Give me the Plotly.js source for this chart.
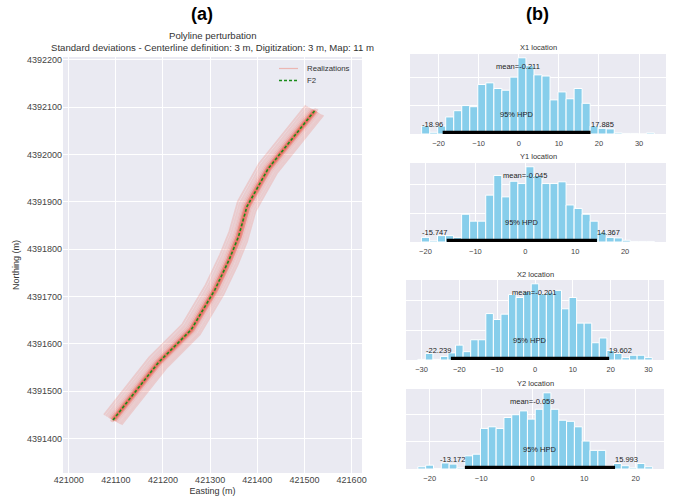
<!DOCTYPE html>
<html><head><meta charset="utf-8">
<script src="https://cdn.plot.ly/plotly-3.0.1.min.js"></script>
<style>html,body{margin:0;padding:0;background:#fff}#chart{width:675px;height:497px}</style>
</head><body><div id="chart"></div>
<script>
// ---------- (a) Polyline perturbation ----------
const f2Easting  = [421094, 421190, 421260, 421310, 421340, 421360, 421378, 421423, 421522];
const f2Northing = [4391439, 4391560, 4391630, 4391714, 4391777, 4391826, 4391890, 4391970, 4392093];
// estimated whole-line displacements (m) of the individual realizations
const realShiftE = [0, 2, -2, 4, -4, 1, -1, 3, -3, 5, -6, 7, -8, 10, -11, 14, -15, 6, -5, 2, -2, 0, 18, -19];
const realShiftN = [1, -1, 2, -2, 2, 0, 1, -2, 2, -3, 3, -4, 4, -6, 6, -8, 8, 3, -3, 4, -4, -3, -10, 11];

const eastTicks  = [421000, 421100, 421200, 421300, 421400, 421500, 421600];
const northTicks = [4391400, 4391500, 4391600, 4391700, 4391800, 4391900, 4392000, 4392100, 4392200];
const legendLabels = ['Realizations', 'F2'];

// ---------- (b) posterior histograms ----------
const x1Centers = [-23.2, -21.2, -19.2, -17.2, -15.2, -13.2, -11.2, -9.2, -7.2, -5.2, -3.2, -1.2, 0.8, 2.8, 4.8, 6.8, 8.8, 10.8, 12.8, 14.8, 16.8, 18.8, 20.8, 22.8, 24.8, 26.8, 28.8, 30.8, 32.8];
const x1Counts  = [14, 3, 14, 30, 41, 50, 48, 87, 90, 80, 77, 100, 134, 120, 104, 102, 60, 74, 62, 80, 54, 14, 10, 9, 2, 1, 1, 0, 2];
const x1Mean = -0.211, x1Hpd = [-18.96, 17.885];
const x1Ticks = [-20, -10, 0, 10, 20, 30];

const y1Centers = [-20.0, -18.39, -16.78, -15.17, -13.56, -11.95, -10.34, -8.73, -7.12, -5.51, -3.9, -2.29, -0.68, 0.93, 2.54, 4.15, 5.76, 7.37, 8.98, 10.59, 12.2, 13.81, 15.42, 17.03, 18.64, 20.25, 21.86, 23.47, 25.08];
const y1Counts  = [8, 2, 11, 11, 8, 48, 36, 36, 81, 115, 78, 105, 101, 130, 115, 101, 101, 104, 64, 58, 48, 36, 17, 8, 7, 3, 1, 1, 1];
const y1Mean = -0.045, y1Hpd = [-15.747, 14.367];
const y1Ticks = [-20, -10, 0, 10, 20];

const x2Centers = [-30, -28, -26, -24, -22, -20, -18, -16, -14, -12, -10, -8, -6, -4, -2, 0, 2, 4, 6, 8, 10, 12, 14, 16, 18, 20, 22, 24, 26, 28, 30];
const x2Counts  = [1, 11, 1, 6, 12, 25, 14, 34, 34, 78, 68, 77, 110, 105, 115, 128, 111, 114, 117, 86, 105, 62, 62, 29, 37, 16, 11, 4, 8, 8, 4];
const x2Mean = -0.201, x2Hpd = [-22.239, 19.602];
const x2Ticks = [-30, -20, -10, 0, 10, 20, 30];

const y2Centers = [-21.54, -20.02, -18.5, -16.98, -15.46, -13.94, -12.42, -10.9, -9.38, -7.86, -6.34, -4.82, -3.3, -1.78, -0.26, 1.26, 2.78, 4.3, 5.82, 7.34, 8.86, 10.38, 11.9, 13.42, 14.94, 16.46, 17.98, 19.5, 21.02, 22.54];
const y2Counts  = [4, 7, 1, 11, 9, 2, 24, 27, 74, 77, 74, 94, 99, 106, 91, 109, 139, 109, 89, 87, 77, 51, 34, 34, 6, 10, 6, 2, 10, 4];
const y2Mean = -0.059, y2Hpd = [-13.172, 15.993];
const y2Ticks = [-20, -10, 0, 10, 20];

// ---------- build ----------
const FONT = 'Liberation Sans, Arial, sans-serif';
const BG = '#EAEAF2';
const W = 675, H = 497;
const px = v => v / W, py = v => 1 - v / H;
const REAL_COLOR = 'rgba(236,80,60,0.2)';
const F2_COLOR = '#1a8c1a';

const traces = [];
realShiftE.forEach((dx, k) => {
  traces.push({
    type: 'scatter', mode: 'lines', xaxis: 'x', yaxis: 'y',
    x: f2Easting.map(e => e + dx), y: f2Northing.map(n => n + realShiftN[k]),
    line: {color: REAL_COLOR, width: 2}, name: legendLabels[0], showlegend: false, hoverinfo: 'skip'
  });
});
traces.push({
  type: 'scatter', mode: 'lines', xaxis: 'x', yaxis: 'y',
  x: f2Easting, y: f2Northing, name: legendLabels[1], showlegend: false,
  line: {color: F2_COLOR, width: 1.6, dash: '3px,2px'}
});

const panels = [
  {title: 'X1 location', c: x1Centers, n: x1Counts, w: 2.0, mean: x1Mean, hpd: x1Hpd, ticks: x1Ticks, xr: [-27.1, 36.7], dx: [410, 666], dy: [54, 134], lbl: ['-18.96', '17.885']},
  {title: 'Y1 location', c: y1Centers, n: y1Counts, w: 1.61, mean: y1Mean, hpd: y1Hpd, ticks: y1Ticks, xr: [-23.1, 28.2], dx: [410, 666], dy: [163, 242], lbl: ['-15.747', '14.367']},
  {title: 'X2 location', c: x2Centers, n: x2Counts, w: 2.0, mean: x2Mean, hpd: x2Hpd, ticks: x2Ticks, xr: [-34.1, 34.1], dx: [406, 664], dy: [280, 360], lbl: ['-22.239', '19.602']},
  {title: 'Y2 location', c: y2Centers, n: y2Counts, w: 1.52, mean: y2Mean, hpd: y2Hpd, ticks: y2Ticks, xr: [-24.6, 25.5], dx: [406, 664], dy: [389, 469], lbl: ['-13.172', '15.993']}
];

const pa = (text, x, y, size, extra) => Object.assign({text, x: px(x), y: py(y), xref: 'paper', yref: 'paper',
  showarrow: false, xanchor: 'center', yanchor: 'middle', font: {size, color: '#333'}}, extra || {});

const layout = {
  width: W, height: H, margin: {l: 0, r: 0, t: 0, b: 0},
  paper_bgcolor: '#fff', plot_bgcolor: BG, showlegend: false,
  font: {family: FONT, color: '#333'},
  xaxis: {domain: [px(63), px(362)], range: [420988, 421622], anchor: 'y',
          tickvals: eastTicks, tickformat: 'd', showgrid: true, gridcolor: '#fff', gridwidth: 1,
          zeroline: false, showline: false, ticks: '', tickfont: {size: 9, color: '#444'},
          title: {text: 'Easting (m)', font: {size: 9, color: '#333'}, standoff: 3}},
  yaxis: {domain: [py(473), py(57)], range: [4391327, 4392206], anchor: 'x',
          tickvals: northTicks, tickformat: 'd', showgrid: true, gridcolor: '#fff', gridwidth: 1,
          zeroline: false, showline: false, ticks: '', tickfont: {size: 9, color: '#444'},
          title: {text: 'Northing (m)', font: {size: 9, color: '#333'}, standoff: 5}},
  annotations: [
    pa('<b>(a)</b>', 202, 14, 18, {font: {size: 18, color: '#000'}}),
    pa('<b>(b)</b>', 537, 14, 18, {font: {size: 18, color: '#000'}}),
    pa('Polyline perturbation', 212, 35, 9.6),
    pa('Standard deviations - Centerline definition: 3 m, Digitization: 3 m, Map: 11 m', 212.5, 47.5, 9.6),
    pa(legendLabels[0], 305, 68.5, 7.8, {xanchor: 'left'}),
    pa(legendLabels[1], 305, 80.5, 7.8, {xanchor: 'left'})
  ],
  shapes: [
    {type: 'line', xref: 'paper', yref: 'paper', x0: px(279), x1: px(298), y0: py(68.5), y1: py(68.5),
     line: {color: 'rgba(240,120,100,0.45)', width: 1.2}},
    {type: 'line', xref: 'paper', yref: 'paper', x0: px(279), x1: px(298), y0: py(80.5), y1: py(80.5),
     line: {color: F2_COLOR, width: 1.5, dash: '3px,2px'}}
  ]
};

panels.forEach((p, i) => {
  const k = i + 2, xa = 'x' + k, ya = 'y' + k;
  const top = Math.max(...p.n) * 1.05;
  traces.push({type: 'bar', x: p.c, y: p.n, width: p.w, xaxis: xa, yaxis: ya, showlegend: false,
               marker: {color: '#87CEEB', line: {color: '#fff', width: 1}}});
  traces.push({type: 'scatter', mode: 'lines', x: p.hpd, y: [top * 0.02, top * 0.02], xaxis: xa, yaxis: ya,
               showlegend: false, line: {color: '#000', width: 3.5}});
  layout['xaxis' + k] = {domain: [px(p.dx[0]), px(p.dx[1])], range: p.xr, anchor: ya, tickvals: p.ticks,
    showgrid: true, gridcolor: '#fff', gridwidth: 1, zeroline: false, showline: false,
    ticks: 'outside', ticklen: 2, tickcolor: 'rgba(0,0,0,0)', tickfont: {size: 7.5, color: '#444'}};
  layout['yaxis' + k] = {domain: [py(p.dy[1]), py(p.dy[0])], range: [0, top], anchor: xa, dtick: 50,
    showgrid: true, gridcolor: '#fff', gridwidth: 1, zeroline: false, showline: false, showticklabels: false, ticks: ''};
  const af = {size: 7.5, color: '#222'};
  layout.annotations.push(
    pa(p.title, (p.dx[0] + p.dx[1]) / 2, p.dy[0] - 6, 7.5),
    {text: 'mean=' + p.mean, x: p.mean, y: top * 0.8, xref: xa, yref: ya, showarrow: false, xanchor: 'center', yanchor: 'bottom', yshift: -3, font: af},
    {text: p.lbl[0], x: p.hpd[0], y: top * 0.07, xref: xa, yref: ya, showarrow: false, xanchor: 'right', yanchor: 'bottom', yshift: -3, xshift: 2, font: af},
    {text: p.lbl[1], x: p.hpd[1], y: top * 0.07, xref: xa, yref: ya, showarrow: false, xanchor: 'left', yanchor: 'bottom', yshift: -3, xshift: -2, font: af},
    {text: '95% HPD', x: (p.hpd[0] + p.hpd[1]) / 2, y: top * 0.2, xref: xa, yref: ya, showarrow: false, xanchor: 'center', yanchor: 'bottom', yshift: -3, font: af}
  );
});

Plotly.newPlot('chart', traces, layout, {displayModeBar: false, staticPlot: true});
</script></body></html>
